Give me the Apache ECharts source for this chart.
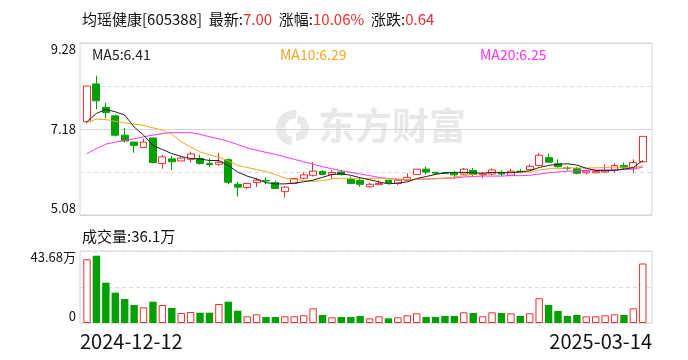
<!DOCTYPE html>
<html><head><meta charset="utf-8">
<script src="https://cdn.jsdelivr.net/npm/echarts@6/dist/echarts.min.js"></script>
<style>html,body{margin:0;padding:0;background:#fff}#c{width:688px;height:360px}</style>
</head><body><div id="c"></div>
<script>
const stockName = '均瑶健康';
const stockCode = '605388';
const dates = ['2024-12-12','2024-12-13','2024-12-16','2024-12-17','2024-12-18','2024-12-19','2024-12-20','2024-12-23','2024-12-24','2024-12-25','2024-12-26','2024-12-27','2024-12-30','2024-12-31','2025-01-02','2025-01-03','2025-01-06','2025-01-07','2025-01-08','2025-01-09','2025-01-10','2025-01-13','2025-01-14','2025-01-15','2025-01-16','2025-01-17','2025-01-20','2025-01-21','2025-01-22','2025-01-23','2025-01-24','2025-01-27','2025-02-05','2025-02-06','2025-02-07','2025-02-10','2025-02-11','2025-02-12','2025-02-13','2025-02-14','2025-02-17','2025-02-18','2025-02-19','2025-02-20','2025-02-21','2025-02-24','2025-02-25','2025-02-26','2025-02-27','2025-02-28','2025-03-03','2025-03-04','2025-03-05','2025-03-06','2025-03-07','2025-03-10','2025-03-11','2025-03-12','2025-03-13','2025-03-14'];
const openP  = [7.36,8.28,7.71,7.50,7.03,6.86,6.73,6.96,6.34,6.45,6.40,6.44,6.46,6.34,6.32,6.43,5.83,5.75,5.87,5.92,5.87,5.65,5.85,5.98,6.05,6.14,6.07,6.13,5.95,5.92,5.77,5.82,5.93,5.85,5.93,6.07,6.20,6.12,6.11,6.10,6.08,6.17,6.06,6.08,6.12,6.05,6.15,6.19,6.29,6.48,6.33,6.23,6.21,6.11,6.11,6.13,6.18,6.29,6.23,6.38];
const closeP = [8.23,7.87,7.58,7.03,6.89,6.78,6.86,6.36,6.50,6.38,6.47,6.57,6.34,6.31,6.37,5.88,5.76,5.85,5.93,5.91,5.73,5.76,5.97,6.06,6.15,6.07,6.12,6.07,5.85,5.83,5.83,5.85,5.86,5.93,6.00,6.20,6.13,6.10,6.10,6.06,6.20,6.07,6.08,6.18,6.08,6.15,6.14,6.27,6.54,6.37,6.26,6.22,6.10,6.15,6.14,6.17,6.29,6.23,6.36,7.00];
const lowP   = [7.32,7.66,7.44,6.99,6.85,6.60,6.73,6.34,6.21,6.18,6.40,6.36,6.31,6.26,6.28,5.83,5.53,5.71,5.76,5.83,5.73,5.51,5.84,5.95,6.02,6.05,5.96,6.04,5.84,5.77,5.75,5.82,5.86,5.81,5.93,6.07,6.07,6.06,6.08,5.98,6.05,6.02,5.98,6.06,6.03,6.05,6.10,6.18,6.27,6.36,6.23,6.17,6.07,6.07,6.10,6.11,6.12,6.18,6.11,6.36];
const highP  = [8.23,8.48,7.82,7.54,7.20,6.87,6.94,6.96,6.55,6.52,6.50,6.63,6.55,6.46,6.59,6.46,5.89,5.87,5.99,6.00,5.92,5.79,5.98,6.12,6.37,6.18,6.18,6.18,6.02,6.00,5.87,5.92,5.93,5.93,6.10,6.20,6.26,6.14,6.12,6.16,6.23,6.23,6.14,6.22,6.17,6.21,6.20,6.31,6.59,6.58,6.44,6.27,6.26,6.18,6.17,6.32,6.34,6.36,6.44,7.00];
const volume = [38.65,40.83,24.45,18.40,14.56,10.92,9.50,12.90,10.90,9.10,6.07,6.67,6.25,6.25,11.50,12.90,7.46,4.05,5.26,3.64,3.64,4.05,4.05,4.67,8.90,4.85,3.44,3.64,3.64,4.25,2.83,4.05,2.83,3.44,4.67,5.87,3.64,3.64,4.25,4.25,6.47,6.07,4.05,6.47,6.07,5.87,4.25,5.87,14.98,10.92,7.28,4.25,4.85,4.05,4.05,4.67,5.26,4.85,8.90,36.10];
const ma5  = [7.36,7.56,7.66,7.60,7.52,7.23,7.03,6.78,6.68,6.58,6.51,6.46,6.45,6.41,6.41,6.29,6.13,6.03,5.96,5.87,5.84,5.84,5.86,5.89,5.93,6.00,6.07,6.09,6.05,5.99,5.94,5.89,5.84,5.86,5.89,5.97,6.02,6.07,6.11,6.12,6.12,6.11,6.10,6.12,6.12,6.11,6.13,6.16,6.24,6.29,6.32,6.33,6.30,6.22,6.17,6.16,6.17,6.20,6.24,6.41];
const ma10 = [7.35,7.42,7.41,7.37,7.33,7.30,7.27,7.21,7.15,7.05,6.87,6.74,6.62,6.55,6.49,6.40,6.29,6.24,6.19,6.14,6.07,5.98,5.95,5.92,5.90,5.92,5.96,5.98,5.97,5.96,5.97,5.98,5.97,5.96,5.94,5.95,5.96,5.96,5.98,6.01,6.04,6.07,6.09,6.11,6.12,6.12,6.12,6.13,6.18,6.21,6.21,6.23,6.23,6.23,6.23,6.24,6.25,6.25,6.23,6.29];
const ma20 = [6.58,6.70,6.81,6.86,6.90,6.94,6.99,7.03,7.07,7.09,7.09,7.09,7.05,6.99,6.94,6.88,6.80,6.72,6.66,6.61,6.56,6.50,6.44,6.38,6.32,6.26,6.21,6.16,6.12,6.08,6.04,6.00,5.97,5.95,5.94,5.95,5.96,5.97,5.98,5.98,6.01,6.02,6.03,6.03,6.03,6.04,6.04,6.05,6.08,6.11,6.13,6.15,6.16,6.17,6.18,6.18,6.18,6.19,6.20,6.25];
const priceTicks = [5.08, 7.18, 9.28];
const priceStep = 1.05;
const volTicks = [0, 21.84, 43.68];
const volTickLabels = ['0', '', '43.68万'];
const volUnitLabel = '成交量';

const RED = '#f02c2c', GREEN = '#00a000';
const C5 = '#222222', C10 = '#f5a623', C20 = '#ff33ff';
const FONT = '"Noto Sans CJK SC", sans-serif';
const GRID_LINE = '#d4d4d4';
const WM = '#e8e8e8';

const n = closeP.length;
const last = closeP[n - 1], prev = closeP[n - 2];
const chg = last - prev;
const pct = chg / prev * 100;

const chart = echarts.init(document.getElementById('c'), null, {renderer: 'canvas'});

const candleData = dates.map((d, i) => [openP[i], closeP[i], lowP[i], highP[i]]);
const volData = volume.map((v, i) => {
  const up = closeP[i] >= openP[i];
  return {value: v, itemStyle: up ? {color: '#fff', borderColor: RED, borderWidth: 1} : {color: GREEN, borderColor: GREEN, borderWidth: 0}};
});

const dataLeft = 82.3, dataWidth = 565.2;
const mainTop = 43, mainH = 172, volTop = 251, volH = 72;

const option = {
  animation: false,
  backgroundColor: '#fff',
  textStyle: {fontFamily: FONT},
  grid: [
    {left: dataLeft, width: dataWidth, top: mainTop, height: mainH},
    {left: dataLeft, width: dataWidth, top: volTop, height: volH},
    {left: 80, width: 572, top: mainTop, height: mainH, show: true, borderColor: GRID_LINE, borderWidth: 1, backgroundColor: 'transparent'},
    {left: 80, width: 572, top: volTop, height: volH, show: true, borderColor: GRID_LINE, borderWidth: 1, backgroundColor: 'transparent'}
  ],
  xAxis: [
    {type: 'category', gridIndex: 0, data: dates, boundaryGap: true, show: false},
    {type: 'category', gridIndex: 1, data: dates, boundaryGap: true, show: false},
    {type: 'category', gridIndex: 2, data: dates, boundaryGap: false, show: false},
    {type: 'category', gridIndex: 3, data: dates, boundaryGap: false,
      axisLine: {show: false}, axisTick: {show: false}, splitLine: {show: false},
      axisLabel: {
        show: true, margin: 8, color: '#111', fontSize: 20, fontFamily: FONT,
        interval: (idx) => idx === 0 || idx === n - 1,
        alignMinLabel: 'left', alignMaxLabel: 'right'
      }}
  ],
  yAxis: [
    {type: 'value', gridIndex: 0, min: priceTicks[0], max: priceTicks[2], show: false},
    {type: 'value', gridIndex: 1, min: volTicks[0], max: volTicks[2], show: false},
    {type: 'value', gridIndex: 2, position: 'left', min: priceTicks[0], max: priceTicks[2], interval: priceStep,
      axisLine: {show: false}, axisTick: {show: false}, axisLabel: {show: false},
      splitLine: {show: true, lineStyle: {color: '#dcdcdc', type: [4, 3], width: 1}}},
    {type: 'value', gridIndex: 2, position: 'left', offset: 0, min: priceTicks[0], max: priceTicks[2], interval: priceTicks[1] - priceTicks[0],
      axisLine: {show: false}, axisTick: {show: false},
      axisLabel: {show: true, margin: 4, color: '#111', fontSize: 13, fontFamily: FONT,
        formatter: (v) => Number(v).toFixed(2),
        verticalAlignMinLabel: 'bottom', verticalAlignMaxLabel: 'top'},
      splitLine: {show: true, lineStyle: {color: GRID_LINE, width: 1}}},
    {type: 'value', gridIndex: 3, position: 'left', min: volTicks[0], max: volTicks[2], interval: volTicks[1],
      axisLine: {show: false}, axisTick: {show: false},
      axisLabel: {show: true, margin: 4, color: '#111', fontSize: 13, fontFamily: FONT,
        formatter: (v) => { const k = volTicks.findIndex(t => Math.abs(t - v) < 1e-6); return k >= 0 ? volTickLabels[k] : ''; },
        verticalAlignMinLabel: 'bottom', verticalAlignMaxLabel: 'top'},
      splitLine: {show: true, lineStyle: {color: '#dcdcdc', type: [4, 3], width: 1}}}
  ],
  series: [
    {type: 'candlestick', xAxisIndex: 0, yAxisIndex: 0, data: candleData, barWidth: 7.4,
      itemStyle: {color: '#fff', color0: GREEN, borderColor: RED, borderColor0: GREEN, borderWidth: 1}},
    {type: 'line', xAxisIndex: 0, yAxisIndex: 0, data: ma20, symbol: 'none', lineStyle: {color: C20, width: 1}},
    {type: 'line', xAxisIndex: 0, yAxisIndex: 0, data: ma10, symbol: 'none', lineStyle: {color: C10, width: 1}},
    {type: 'line', xAxisIndex: 0, yAxisIndex: 0, data: ma5, symbol: 'none', lineStyle: {color: C5, width: 1}},
    {type: 'bar', xAxisIndex: 1, yAxisIndex: 1, data: volData, barWidth: 7.4}
  ],
  graphic: [
    {type: 'group', left: 276, top: 110, z: -1, silent: true, children: [
      {type: 'sector', shape: {cx: 17, cy: 18, r: 18, r0: 9, startAngle: Math.PI * 0.55, endAngle: Math.PI * 1.55}, style: {fill: WM}},
      {type: 'sector', shape: {cx: 19, cy: 18, r: 13, r0: 5, startAngle: -Math.PI * 0.45, endAngle: Math.PI * 0.5}, style: {fill: WM}}
    ]},
    {type: 'text', left: 318, top: 107, z: -1, silent: true,
      style: {text: '东方财富', fill: WM, font: 'bold 37px ' + FONT}},
    {type: 'text', left: 82, top: 12, z: 10,
      style: {
        text: `{k|${stockName}[${stockCode}]  最新:}{v|${last.toFixed(2)}}{k|  涨幅:}{v|${pct.toFixed(2)}%}{k|  涨跌:}{v|${chg.toFixed(2)}}`,
        rich: {k: {fill: '#111', fontSize: 15, fontFamily: FONT}, v: {fill: RED, fontSize: 15, fontFamily: FONT}}
      }},
    {type: 'text', left: 92, top: 48, z: 10, style: {text: `MA5:${ma5[n-1].toFixed(2)}`, fill: C5, font: '14px ' + FONT}},
    {type: 'text', left: 280, top: 48, z: 10, style: {text: `MA10:${ma10[n-1].toFixed(2)}`, fill: C10, font: '14px ' + FONT}},
    {type: 'text', left: 480, top: 48, z: 10, style: {text: `MA20:${ma20[n-1].toFixed(2)}`, fill: C20, font: '14px ' + FONT}},
    {type: 'text', left: 82, top: 229, z: 10, style: {text: `${volUnitLabel}:${volume[n-1].toFixed(1)}万`, fill: '#111', font: '15px ' + FONT}}
  ]
};
chart.setOption(option);
</script>
</body></html>
